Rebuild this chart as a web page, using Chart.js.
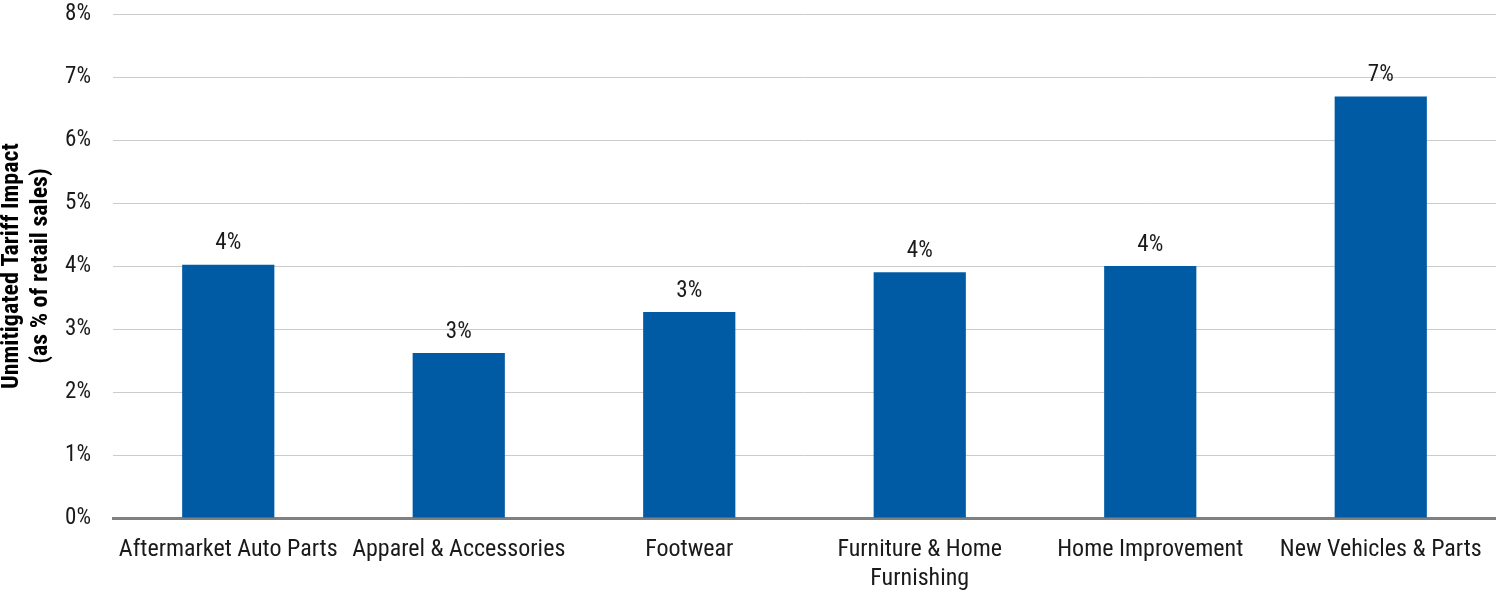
<!DOCTYPE html>
<html>
<head>
<meta charset="utf-8">
<script src="https://cdn.jsdelivr.net/npm/chart.js@4.4.1/dist/chart.umd.min.js"></script>
<style>
  html, body { margin: 0; padding: 0; background: #fff; }
  #wrap { width: 1496px; height: 590px; position: relative; }
</style>
</head>
<body>
<div id="wrap"><canvas id="chart_tariffImpact"></canvas></div>
<script>
// categories and values (percent of retail sales)
var categories = [
    'Aftermarket Auto Parts',
    'Apparel & Accessories',
    'Footwear',
    ['Furniture & Home', 'Furnishing'],
    'Home Improvement',
    'New Vehicles & Parts'
];
var tariffImpact = [4.02, 2.62, 3.27, 3.9, 4.0, 6.69];
var yTicks = [0, 1, 2, 3, 4, 5, 6, 7, 8];

var fontStack = "'Roboto Condensed', 'Liberation Sans Narrow', Roboto, sans-serif";
Chart.defaults.font.family = fontStack;
Chart.defaults.font.size = 23;
Chart.defaults.color = '#1a1a1a';

var barLabels = {
    id: 'barLabels',
    afterDatasetsDraw: (chart) => {
        const ctx = chart.ctx;
        const meta = chart.getDatasetMeta(0);
        ctx.save();
        ctx.font = '23px ' + fontStack;
        ctx.fillStyle = '#1a1a1a';
        ctx.textAlign = 'center';
        ctx.textBaseline = 'middle';
        meta.data.forEach((bar, i) => {
            ctx.fillText(Math.round(tariffImpact[i]) + '%', bar.x, bar.y - 21);
        });
        ctx.restore();
    }
};

// drop the automatic half-label padding so the plot area fills the canvas
function noPadding(scale) {
    scale.paddingTop = 0;
    scale.paddingBottom = 0;
    scale.paddingLeft = 0;
    scale.paddingRight = 0;
}

var chart_tariffImpact = new Chart(document.getElementById('chart_tariffImpact'), {
    type: 'bar',
    data: {
        labels: categories,
        datasets: [
            {
                label: 'Unmitigated Tariff Impact',
                data: tariffImpact,
                backgroundColor: '#005ba4',
                categoryPercentage: 1.0,
                barPercentage: 0.4
            }
        ]
    },
    options: {
        animation: false,
        responsive: true,
        maintainAspectRatio: false,
        layout: {
            padding: { top: 14, right: 0, left: 0, bottom: 0 }
        },
        plugins: {
            legend: { display: false },
            tooltip: { enabled: false }
        },
        scales: {
            x: {
                grid: { display: false, drawTicks: false },
                border: { display: true, color: '#808080', width: 3 },
                ticks: {
                    padding: 18,
                    maxRotation: 0,
                    autoSkip: false,
                    font: { size: 24, lineHeight: 1.2 }
                },
                afterFit: (scale) => { scale.height = 72; noPadding(scale); }
            },
            y: {
                min: 0,
                max: 8,
                afterBuildTicks: (scale) => {
                    scale.ticks = yTicks.map(v => ({ value: v }));
                },
                grid: { color: '#cccccc', lineWidth: 1, drawTicks: false },
                border: { display: false },
                ticks: {
                    padding: 22,
                    font: { size: 23 },
                    callback: function(value) {
                        return value + '%';
                    }
                },
                title: {
                    display: true,
                    text: ['Unmitigated Tariff Impact', '(as % of retail sales)'],
                    font: { size: 24, weight: 'bold', lineHeight: 1.2 },
                    color: '#000',
                    padding: { top: -2, bottom: 0 }
                },
                afterFit: (scale) => { scale.width = 113; noPadding(scale); }
            }
        }
    },
    plugins: [barLabels, {
        id: 'whiteBackground',
        beforeDraw: (chart) => {
            const ctx = chart.canvas.getContext('2d');
            ctx.save();
            ctx.globalCompositeOperation = 'destination-over';
            ctx.fillStyle = 'white';
            ctx.fillRect(0, 0, chart.canvas.width, chart.canvas.height);
            ctx.restore();
        }
    }]
});
</script>
</body>
</html>
